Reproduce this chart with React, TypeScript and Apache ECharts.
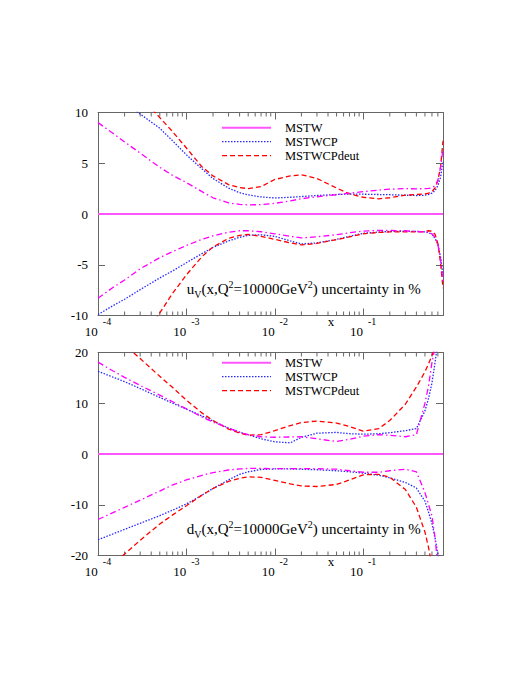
import React, { useEffect, useRef } from 'react';
import * as echarts from 'echarts';

// x grid (momentum fraction)
const xs = [1e-4, 1.5e-4, 2e-4, 3e-4, 5e-4, 7e-4, 1e-3, 1.5e-3, 2e-3, 3e-3, 4e-3, 5e-3, 7e-3, 1e-2, 1.5e-2, 2e-2, 3e-2, 5e-2, 7e-2, 0.1, 0.15, 0.2, 0.3, 0.4, 0.5, 0.55, 0.6, 0.65, 0.7, 0.75, 0.8];

// central MSTW line (0 %)
const centralX = [1e-4, 0.8];
const centralY = [0, 0];

// u_V panel (uncertainty in %)
const uMstwUp = [9.0, 7.9, 7.1, 6.0, 4.6, 3.8, 3.1, 2.2, 1.6, 1.1, 0.95, 0.9, 0.92, 1.05, 1.3, 1.5, 1.7, 1.9, 2.05, 2.2, 2.35, 2.45, 2.5, 2.48, 2.5, 2.52, 2.58, 2.8, 3.3, 4.6, 6.4];
const uMstwLo = [-8.3, -7.2, -6.5, -5.4, -4.3, -3.7, -3.1, -2.5, -2.15, -1.8, -1.65, -1.65, -1.75, -1.95, -2.2, -2.35, -2.25, -2.04, -1.85, -1.68, -1.62, -1.62, -1.65, -1.72, -1.77, -1.8, -1.95, -2.3, -3.0, -4.5, -6.6];
const uCpUp = [12.9, 11.8, 11.0, 9.85, 8.45, 7.2, 5.83, 4.45, 3.5, 2.55, 2.1, 1.88, 1.68, 1.58, 1.65, 1.72, 1.82, 1.92, 1.97, 1.95, 1.92, 1.9, 1.85, 1.82, 1.85, 1.92, 2.05, 2.3, 2.8, 3.6, 5.2];
const uCpLo = [-9.9, -9.0, -8.4, -7.45, -6.3, -5.6, -4.8, -3.9, -3.3, -2.65, -2.3, -2.1, -2.05, -2.2, -2.65, -2.95, -2.85, -2.5, -2.2, -1.9, -1.78, -1.72, -1.7, -1.72, -1.76, -1.85, -2.0, -2.4, -3.0, -4.2, -6.0];
const uDeutUp = [16.1, 14.4, 13.2, 11.6, 9.5, 8.1, 6.5, 4.65, 3.75, 2.9, 2.6, 2.5, 2.7, 3.4, 3.75, 3.87, 3.5, 2.56, 1.98, 1.65, 1.5, 1.6, 1.85, 1.92, 1.97, 2.05, 2.2, 2.56, 3.3, 4.6, 7.2];
const uDeutLo = [-19, -16.7, -15, -12.7, -9.75, -7.8, -6.0, -4.2, -3.25, -2.4, -2.1, -2.02, -2.2, -2.5, -2.85, -3.05, -2.9, -2.53, -2.25, -1.95, -1.82, -1.77, -1.77, -1.77, -1.72, -1.65, -1.7, -2.0, -2.9, -4.8, -7.3];

// d_V panel (uncertainty in %)
const dMstwUp = [18.1, 16.3, 15.1, 13.5, 11.6, 10.3, 8.9, 7.3, 6.3, 5.1, 4.3, 3.8, 3.4, 3.3, 3.35, 3.4, 3.0, 2.45, 2.9, 3.5, 3.8, 3.7, 3.4, 3.8, 10, 13.5, 18, 21, 25, 29, 33];
const dMstwLo = [-12.9, -11.5, -10.5, -9.1, -7.3, -6.1, -5.1, -4.2, -3.65, -3.15, -2.95, -2.85, -2.85, -2.9, -2.9, -2.9, -2.9, -3.0, -3.3, -3.6, -3.6, -3.3, -3.0, -3.5, -7.6, -10, -12.2, -16.5, -22, -26, -30];
const dCpUp = [16.3, 15.1, 14.25, 12.9, 11.15, 10.0, 8.85, 7.5, 6.5, 5.1, 4.3, 3.8, 3.0, 2.4, 2.2, 3.3, 4.1, 4.25, 4.0, 3.9, 4.0, 4.2, 4.6, 5.0, 8.5, 11, 14, 18, 22, 26, 30];
const dCpLo = [-16.9, -15.7, -14.85, -13.65, -12.15, -11.05, -9.85, -8.1, -6.8, -5.1, -4.0, -3.5, -3.05, -2.95, -2.95, -3.0, -3.1, -3.3, -3.5, -3.75, -4.2, -4.7, -5.6, -6.7, -9.3, -11.5, -13.7, -16.5, -19.8, -24, -30];
const dDeutUp = [26.2, 23.4, 21.5, 18.8, 15.3, 13.1, 10.6, 8.1, 6.6, 4.9, 4.1, 3.7, 3.8, 4.6, 5.6, 6.2, 6.5, 6.1, 5.4, 4.5, 5.0, 6.6, 9.8, 13.2, 16.2, 17.8, 19.4, 21, 23, 25, 27];
const dDeutLo = [-24.2, -21.6, -19.7, -17.0, -13.8, -12.0, -10.2, -8.1, -6.8, -5.4, -4.8, -4.5, -4.6, -5.2, -5.9, -6.3, -6.4, -6.0, -5.1, -4.1, -4.0, -4.6, -7.0, -10.5, -15.4, -18.5, -22, -25, -28, -31, -35];

const legendNames = ['MSTW', 'MSTWCP', 'MSTWCPdeut'];
const yTicksU = { min: -10, max: 10, interval: 5 };
const yTicksD = { min: -20, max: 20, interval: 10 };

const FONT = '"Liberation Serif", "Times New Roman", serif';
const AXIS = '#666666';
const MAGENTA = '#ff00ff';
const MAGENTA_LIGHT = '#ff55ff';
const BLUE = '#2a2aff';
const RED = '#ff0000';

const pair = (ys: number[]) => xs.map((x, i) => [x, ys[i]]);

const panels = [
  { top: 112.5, y: yTicksU, mstw: [uMstwUp, uMstwLo], cp: [uCpUp, uCpLo], deut: [uDeutUp, uDeutLo], letter: 'u', titleY: 289, xLabelY: 321.5, legendTop: 121.2 },
  { top: 352.5, y: yTicksD, mstw: [dMstwUp, dMstwLo], cp: [dCpUp, dCpLo], deut: [dDeutUp, dDeutLo], letter: 'd', titleY: 529, xLabelY: 561.5, legendTop: 356.2 },
];

const GRID_LEFT = 98;
const GRID_W = 345;
const GRID_H = 203;
const X_MIN = 1e-4;
const X_MAX = 0.8;

const minorTicks: number[][] = [];
for (let e = -4; e <= -1; e++) {
  for (let k = 2; k <= 9; k++) {
    const v = k * Math.pow(10, e);
    if (v < X_MAX - 1e-9) minorTicks.push([v, 0]);
  }
}

function buildOption() {
  const grid: any[] = [];
  const xAxis: any[] = [];
  const yAxis: any[] = [];
  const series: any[] = [];
  const legend: any[] = [];
  const graphic: any[] = [];

  panels.forEach((p, i) => {
    grid.push({ left: GRID_LEFT, top: p.top, width: GRID_W, height: GRID_H, containLabel: false });
    const xBase = {
      type: 'log', logBase: 10, min: X_MIN, max: X_MAX, gridIndex: i, splitNumber: 4,
      axisLine: { show: true, onZero: false, lineStyle: { color: AXIS, width: 1 } },
      axisTick: { show: true, inside: true, length: 7, lineStyle: { color: AXIS } },
      splitLine: { show: false },
    };
    xAxis.push({
      ...xBase, position: 'bottom',
      axisLabel: {
        show: true, margin: 1, color: '#000', fontFamily: FONT,
        formatter: (v: number) => {
          const l = Math.log10(v);
          const e = Math.round(l);
          if (Math.abs(l - e) > 1e-6) return '';
          return `{b|10}{s|${e}}`;
        },
        rich: {
          b: { fontFamily: FONT, fontSize: 13, color: '#000', padding: [8, 0, 0, 0] },
          s: { fontFamily: FONT, fontSize: 10, color: '#000', verticalAlign: 'top', padding: [0, 0, 0, 5] },
        },
      },
    });
    xAxis.push({ ...xBase, position: 'top', axisLabel: { show: false } });
    const yBase = {
      type: 'value', gridIndex: i, min: p.y.min, max: p.y.max, interval: p.y.interval,
      axisLine: { show: true, onZero: false, lineStyle: { color: AXIS, width: 1 } },
      axisTick: { show: true, inside: true, length: 7, lineStyle: { color: AXIS } },
      splitLine: { show: false },
    };
    yAxis.push({ ...yBase, position: 'left', axisLabel: { show: true, margin: 10, color: '#000', fontFamily: FONT, fontSize: 13 } });
    yAxis.push({ ...yBase, position: 'right', axisLabel: { show: false } });

    const xi = i * 2;
    const yi = i * 2;
    const common = { type: 'line', xAxisIndex: xi, yAxisIndex: yi, showSymbol: false, symbol: 'none', smooth: false, clip: true, silent: true };

    series.push({
      ...common, name: 'MSTW',
      data: centralX.map((x, k) => [x, centralY[k]]),
      lineStyle: { color: MAGENTA_LIGHT, width: 2, type: 'solid' }, itemStyle: { color: MAGENTA_LIGHT },
    });
    series.push({
      ...common, name: 'MSTWCP', data: pair(p.cp[0]),
      lineStyle: { color: BLUE, width: 1.3, type: [1.5, 1.5] }, itemStyle: { color: BLUE },
    });
    series.push({
      ...common, name: 'MSTWCP', data: pair(p.cp[1]),
      lineStyle: { color: BLUE, width: 1.3, type: [1.5, 1.5] }, itemStyle: { color: BLUE },
    });
    series.push({
      ...common, name: 'MSTWCPdeut', data: pair(p.deut[0]),
      lineStyle: { color: RED, width: 1.3, type: [5, 3] }, itemStyle: { color: RED },
    });
    series.push({
      ...common, name: 'MSTWCPdeut', data: pair(p.deut[1]),
      lineStyle: { color: RED, width: 1.3, type: [5, 3] }, itemStyle: { color: RED },
    });
    series.push({
      ...common, name: 'MSTW band', data: pair(p.mstw[0]),
      lineStyle: { color: MAGENTA, width: 1.3, type: [6, 3, 1.5, 3] }, itemStyle: { color: MAGENTA },
    });
    series.push({
      ...common, name: 'MSTW band', data: pair(p.mstw[1]),
      lineStyle: { color: MAGENTA, width: 1.3, type: [6, 3, 1.5, 3] }, itemStyle: { color: MAGENTA },
    });

    const yMin = p.y.min;
    const yMax = p.y.max;
    series.push({
      type: 'custom', xAxisIndex: xi, yAxisIndex: yi, silent: true, data: minorTicks,
      renderItem: (params: any, api: any) => {
        const x = api.value(0);
        const b = api.coord([x, yMin]);
        const t = api.coord([x, yMax]);
        const st = { stroke: AXIS, lineWidth: 1 };
        return {
          type: 'group',
          children: [
            { type: 'line', shape: { x1: b[0], y1: b[1], x2: b[0], y2: b[1] - 4 }, style: st },
            { type: 'line', shape: { x1: t[0], y1: t[1], x2: t[0], y2: t[1] + 4 }, style: st },
          ],
        };
      },
    });

    legend.push({
      data: legendNames, orient: 'vertical', left: 221, top: p.legendTop, padding: 0,
      itemWidth: 49, itemHeight: 12.5, itemGap: 1, selectedMode: false,
      itemStyle: { opacity: 0 },
      lineStyle: { width: 'inherit' },
      textStyle: { fontFamily: FONT, fontSize: 12.5, lineHeight: 12.5, color: '#000', padding: [0, 0, 0, 9] },
    });

    graphic.push({
      type: 'text', x: 186.7, y: p.titleY, silent: true,
      style: {
        text: `{n|${p.letter}}{sub|V}{n|(x,Q}{sup|2}{n|=10000GeV}{sup|2}{n|) uncertainty in %}`,
        verticalAlign: 'middle', align: 'left',
        rich: {
          n: { fontFamily: FONT, fontSize: 15, color: '#000', lineHeight: 20 },
          sub: { fontFamily: FONT, fontSize: 10, color: '#000', verticalAlign: 'bottom' },
          sup: { fontFamily: FONT, fontSize: 10, color: '#000', verticalAlign: 'top' },
        },
      },
    });
    graphic.push({
      type: 'text', x: 331, y: p.xLabelY, silent: true,
      style: { text: 'x', font: `13px ${FONT}`, fill: '#000', align: 'center', verticalAlign: 'middle' },
    });
  });

  return { animation: false, backgroundColor: '#ffffff', grid, xAxis, yAxis, series, legend, graphic };
}

export default function App() {
  const ref = useRef<HTMLDivElement>(null);
  useEffect(() => {
    const chart = echarts.init(ref.current as HTMLDivElement, null, { renderer: 'svg' });
    chart.setOption(buildOption() as any);
    return () => chart.dispose();
  }, []);
  return (
    <div
      ref={ref}
      style={{ position: 'absolute', left: 0, top: 0, width: 531, height: 687, background: '#fff' }}
    />
  );
}
